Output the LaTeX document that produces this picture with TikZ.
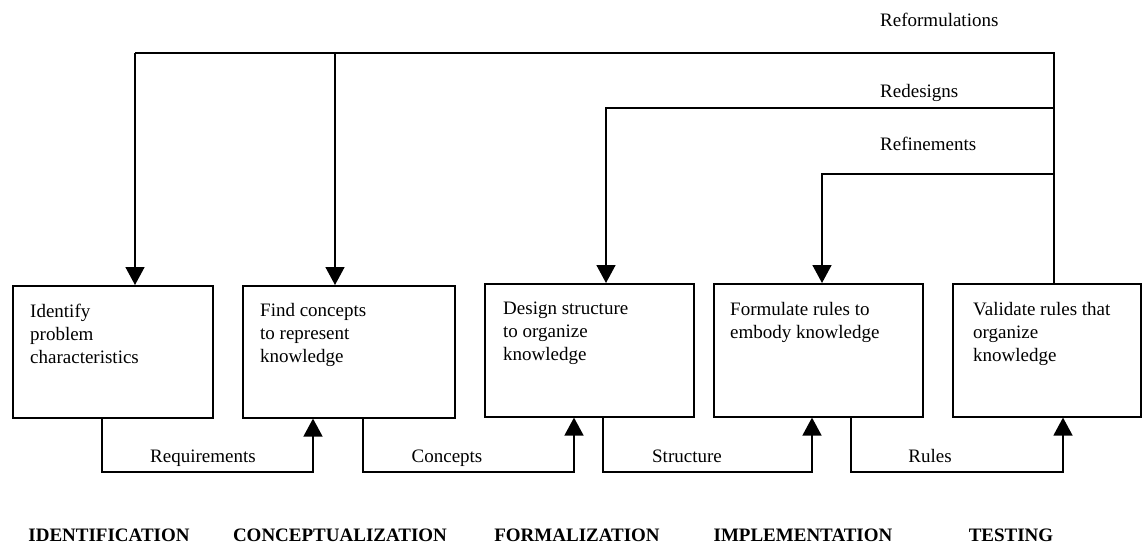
\documentclass[tikz,border=0pt]{standalone}
\usepackage{fontspec}
\setmainfont{Liberation Serif}
\usetikzlibrary{arrows.meta}
\tikzset{
  conn/.style={line width=1.6pt},
  arr/.style={line width=1.6pt,-{Triangle[width=19pt,length=18pt]}},
  stagebox/.style={draw,line width=1.6pt,rectangle,inner sep=0pt,anchor=north west},
  boxtext/.style={anchor=north west,align=left,inner sep=0pt,font=\fontsize{19}{23}\selectfont},
  lbl/.style={inner sep=0pt,font=\fontsize{19}{23}\selectfont},
  phase/.style={inner sep=0pt,anchor=base,font=\fontsize{19}{23}\selectfont\bfseries}
}
\begin{document}
\begin{tikzpicture}[x=1pt,y=-1pt]
\useasboundingbox (0,0) rectangle (1143,546);
% boxes
\node[stagebox,minimum width=200pt,minimum height=132pt] (b1) at (12,285) {};
\node[stagebox,minimum width=212pt,minimum height=132pt] (b2) at (242,285) {};
\node[stagebox,minimum width=209pt,minimum height=133pt] (b3) at (484,283) {};
\node[stagebox,minimum width=209pt,minimum height=133pt] (b4) at (713,283) {};
\node[stagebox,minimum width=188pt,minimum height=133pt] (b5) at (952,283) {};
% box texts
\node[boxtext] (t1) at (30,304) {Identify\\problem\\characteristics};
\node[boxtext] (t2) at (260,303) {Find concepts\\to represent\\knowledge};
\node[boxtext] (t3) at (503,302) {Design structure\\to organize\\knowledge};
\node[boxtext] (t4) at (730,302) {Formulate rules to\\embody knowledge};
\node[boxtext] (t5) at (973,302) {Validate rules that\\organize\\knowledge};
% feedback loops
\coordinate (R) at (1054,53);
\coordinate (ra) at (135,53);
\coordinate (rb) at (335,53);
\coordinate (D) at (1054,108);
\coordinate (da) at (606,108);
\coordinate (F) at (1054,174);
\coordinate (fa) at (822,174);
\draw[conn] (b5.north -| R) -- (R) -- (ra);
\draw[arr] (ra) -- (b1.north -| ra);
\draw[arr] (rb) -- (b2.north -| rb);
\draw[arr] (D) -- (da) -- (b3.north -| da);
\draw[arr] (F) -- (fa) -- (b4.north -| fa);
\node[lbl,anchor=base west] (lr) at (880,26) {Reformulations};
\node[lbl,anchor=base west] (ld) at (880,97) {Redesigns};
\node[lbl,anchor=base west] (lf) at (880,150) {Refinements};
% forward connectors
\coordinate (q1) at (102,472); \coordinate (p1) at (313,472);
\coordinate (q2) at (363,472); \coordinate (p2) at (574,472);
\coordinate (q3) at (603,472); \coordinate (p3) at (812,472);
\coordinate (q4) at (851,472); \coordinate (p4) at (1063,472);
\draw[arr] (b1.south -| q1) -- (q1) -- (p1) -- (b2.south -| p1);
\draw[arr] (b2.south -| q2) -- (q2) -- (p2) -- (b3.south -| p2);
\draw[arr] (b3.south -| q3) -- (q3) -- (p3) -- (b4.south -| p3);
\draw[arr] (b4.south -| q4) -- (q4) -- (p4) -- (b5.south -| p4);
\node[lbl,anchor=base] (l1) at (203,462) {Requirements};
\node[lbl,anchor=base] (l2) at (447,462) {Concepts};
\node[lbl,anchor=base] (l3) at (687,462) {Structure};
\node[lbl,anchor=base] (l4) at (930,462) {Rules};
% phases
\node[phase] (s1) at (109,541) {IDENTIFICATION};
\node[phase] (s2) at (340,541) {CONCEPTUALIZATION};
\node[phase] (s3) at (577,541) {FORMALIZATION};
\node[phase] (s4) at (803,541) {IMPLEMENTATION};
\node[phase] (s5) at (1011,541) {TESTING};
\end{tikzpicture}
\end{document}
